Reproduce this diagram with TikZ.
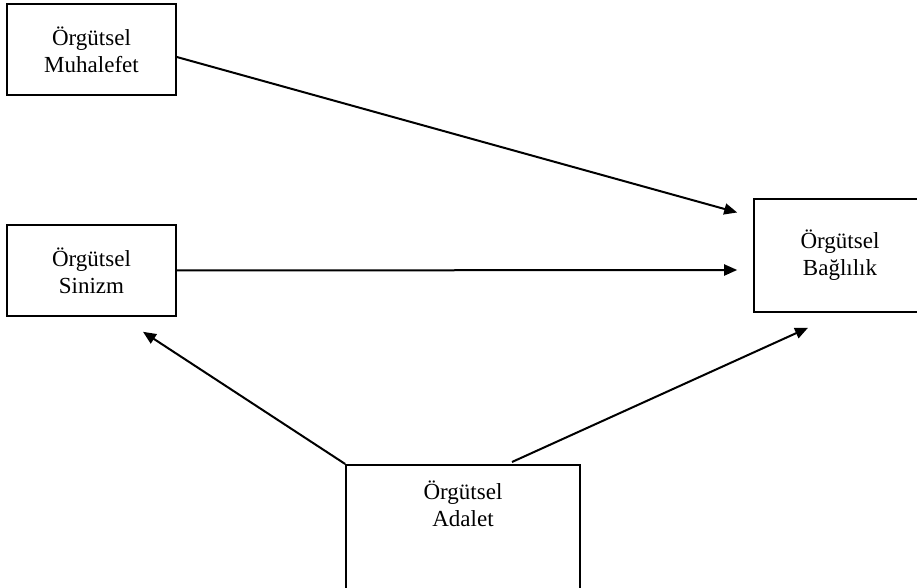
\documentclass[tikz,border=0pt]{standalone}
\usepackage{fontspec}
\setmainfont{Liberation Serif}
\usetikzlibrary{arrows.meta}

\begin{document}
\begin{tikzpicture}[x=0.5pt, y=-0.5pt,
		kutu/.style={draw, line width=0.8pt, align=center, inner sep=0pt,
			font=\fontsize{11.5}{13.5}\selectfont},
		ok/.style={-{Triangle[length=6.5pt,width=5.5pt]}, line width=1pt}]
		
		\useasboundingbox (0,0) rectangle (917,588);
		\clip (0,0) rectangle (917,588);
		
		\node[kutu, minimum width=84.5pt, minimum height=45.5pt] (muh) at (91.5,49.5) {Örgütsel\\Muhalefet};
		\node[kutu, minimum width=84.5pt, minimum height=45.5pt] (sin) at (91.5,270.5) {Örgütsel\\Sinizm};
		\node[kutu, minimum width=86pt, minimum height=56.5pt] (bag) at (840,255.5) {Örgütsel\\Bağlılık};
		\node[kutu, minimum width=117pt, anchor=north, inner ysep=8pt, text depth=50pt] (ada) at (463,464) {Örgütsel\\Adalet};
		
		\draw[ok] ([yshift=-3.75pt]muh.east) -- ([xshift=-8pt,yshift=21.5pt]bag.west);
		\draw[ok] (sin.east) -- ([xshift=-8pt,yshift=-7.25pt]bag.west);
		\draw[ok] (ada.north west) -- ([xshift=25.75pt,yshift=-7.5pt]sin.south);
		\draw[ok] ([xshift=24.5pt,yshift=1pt]ada.north) -- ([xshift=-16pt,yshift=-7.5pt]bag.south);
		
	\end{tikzpicture}
\end{document}
